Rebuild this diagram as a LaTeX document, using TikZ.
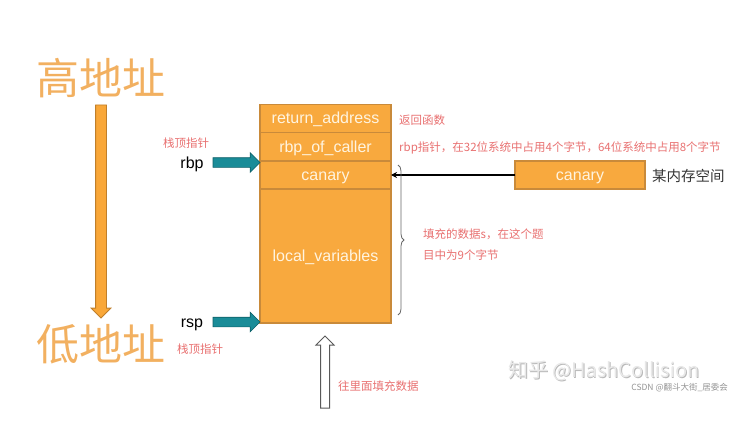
\documentclass[tikz,border=0pt]{standalone}
\usepackage{fontspec}
\setmainfont{Liberation Sans}
\newfontfamily\cjk{Noto Sans CJK SC}
\usetikzlibrary{shapes.arrows,decorations.pathreplacing,arrows.meta,calc}
\definecolor{stackfill}{HTML}{F8A93E}
\definecolor{stackline}{HTML}{C98A3A}
\definecolor{celltext}{HTML}{FFF4E0}
\definecolor{addr}{HTML}{F2B060}
\definecolor{notecol}{HTML}{E87070}
\definecolor{tealfill}{HTML}{1A8C98}
\definecolor{tealline}{HTML}{0F6068}
\definecolor{bigfill}{HTML}{F9A738}
\definecolor{bigline}{HTML}{C07F2A}
\begin{document}
\begin{tikzpicture}[x=1pt,y=-1pt,
  cell/.style={draw=stackline, line width=1.2pt, fill=stackfill, minimum width=131pt,
    inner sep=0pt, outer sep=0pt, text=celltext, font=\fontsize{16}{18}\selectfont,
    text height=12pt, text depth=1pt},
  notelabel/.style={text=notecol, font=\cjk\fontsize{11.5}{13}\selectfont, anchor=west, inner sep=0pt},
  addrlabel/.style={text=addr, font=\cjk\fontsize{43}{46}\selectfont, inner sep=0pt},
  reglabel/.style={font=\fontsize{16}{18}\selectfont, inner sep=0pt, text height=12pt, text depth=0.5pt},
  tealarrow/.style={single arrow, draw=tealline, fill=tealfill, line width=0.6pt,
    inner sep=4.5pt, single arrow head extend=5pt, minimum height=47pt, outer sep=0pt},
  bigarrow/.style={single arrow, draw=bigline, fill=bigfill, line width=0.8pt,
    inner sep=5pt, single arrow head extend=4.5pt, minimum height=213pt, outer sep=0pt},
  hollowarrow/.style={single arrow, draw=gray!70!black, fill=white, line width=1pt,
    inner sep=4pt, single arrow head extend=4.5pt, minimum height=72pt, outer sep=0pt},
]
\useasboundingbox (0,0) rectangle (745,428);

% address labels and direction arrow
\node[addrlabel] (high) at (101,78) {高地址};
\node[addrlabel] (low) at (101,344) {低地址};
\node[bigarrow, rotate=-90, anchor=tail] (downarr) at (101,105) {};

% stack
\node[cell, minimum height=28pt] (ret) at (325.5,118.5) {return\_address};
\node[cell, minimum height=29pt] (rbpc) at (325.5,147) {rbp\_of\_caller};
\node[cell, minimum height=28pt] (can) at (325.5,175) {canary};
\node[cell, minimum height=134pt] (loc) at (325.5,256) {local\_variables};

% registers
\node[reglabel] (rbp) at (192,162.5) {rbp};
\node[reglabel] (rsp) at (192,322) {rsp};
\node[tealarrow, anchor=tip] (rbparr) at (rbp -| rbpc.west) {};
\node[tealarrow, anchor=tip] (rsparr) at (rsp -| loc.west) {};
\node[notelabel] (rbpnote) at (163,143) {栈顶指针};
\node[notelabel] (rspnote) at (177,349) {栈顶指针};

% right side
\node[notelabel] (retnote) at (399,120) {返回函数};
\node[notelabel] (rbpcnote) at (399,148) {rbp指针，在32位系统中占用4个字节，64位系统中占用8个字节};
\node[cell, minimum height=28pt, minimum width=130pt] (canbox) at (580,175) {canary};
\node[anchor=west, inner sep=0pt, text=black!80, font=\cjk\fontsize{14.5}{16}\selectfont] (mem) at (652,176) {某内存空间};
\draw[line width=1.8pt, -{Stealth[length=6pt,width=6pt]}] (canbox.west) -- (can.east);

\draw[gray!80!black, line width=0.8pt, decorate, decoration={brace, amplitude=6pt}] (398,165) -- (398,315);
\node[notelabel] (fill1) at (423,234) {填充的数据s，在这个题};
\node[notelabel] (fill2) at (423,255) {目中为9个字节};

% fill direction
\node[hollowarrow, rotate=90, anchor=tip] (uparr) at (325,336) {};
\node[notelabel] (upnote) at (338,386) {往里面填充数据};

% watermark
\node[anchor=west, inner sep=0pt, text=gray!55, font=\cjk\fontsize{20}{22}\selectfont] at (508.8,371.8) {知乎 @HashCollision};
\node[anchor=west, inner sep=0pt, text=gray!18, font=\cjk\fontsize{20}{22}\selectfont] (wm) at (508,371) {知乎 @HashCollision};
\node[anchor=east, inner sep=0pt, text=gray!85, font=\cjk\fontsize{8.5}{10}\selectfont] (csdn) at (728,388) {CSDN @翻斗大街\_居委会};
\end{tikzpicture}
\end{document}
